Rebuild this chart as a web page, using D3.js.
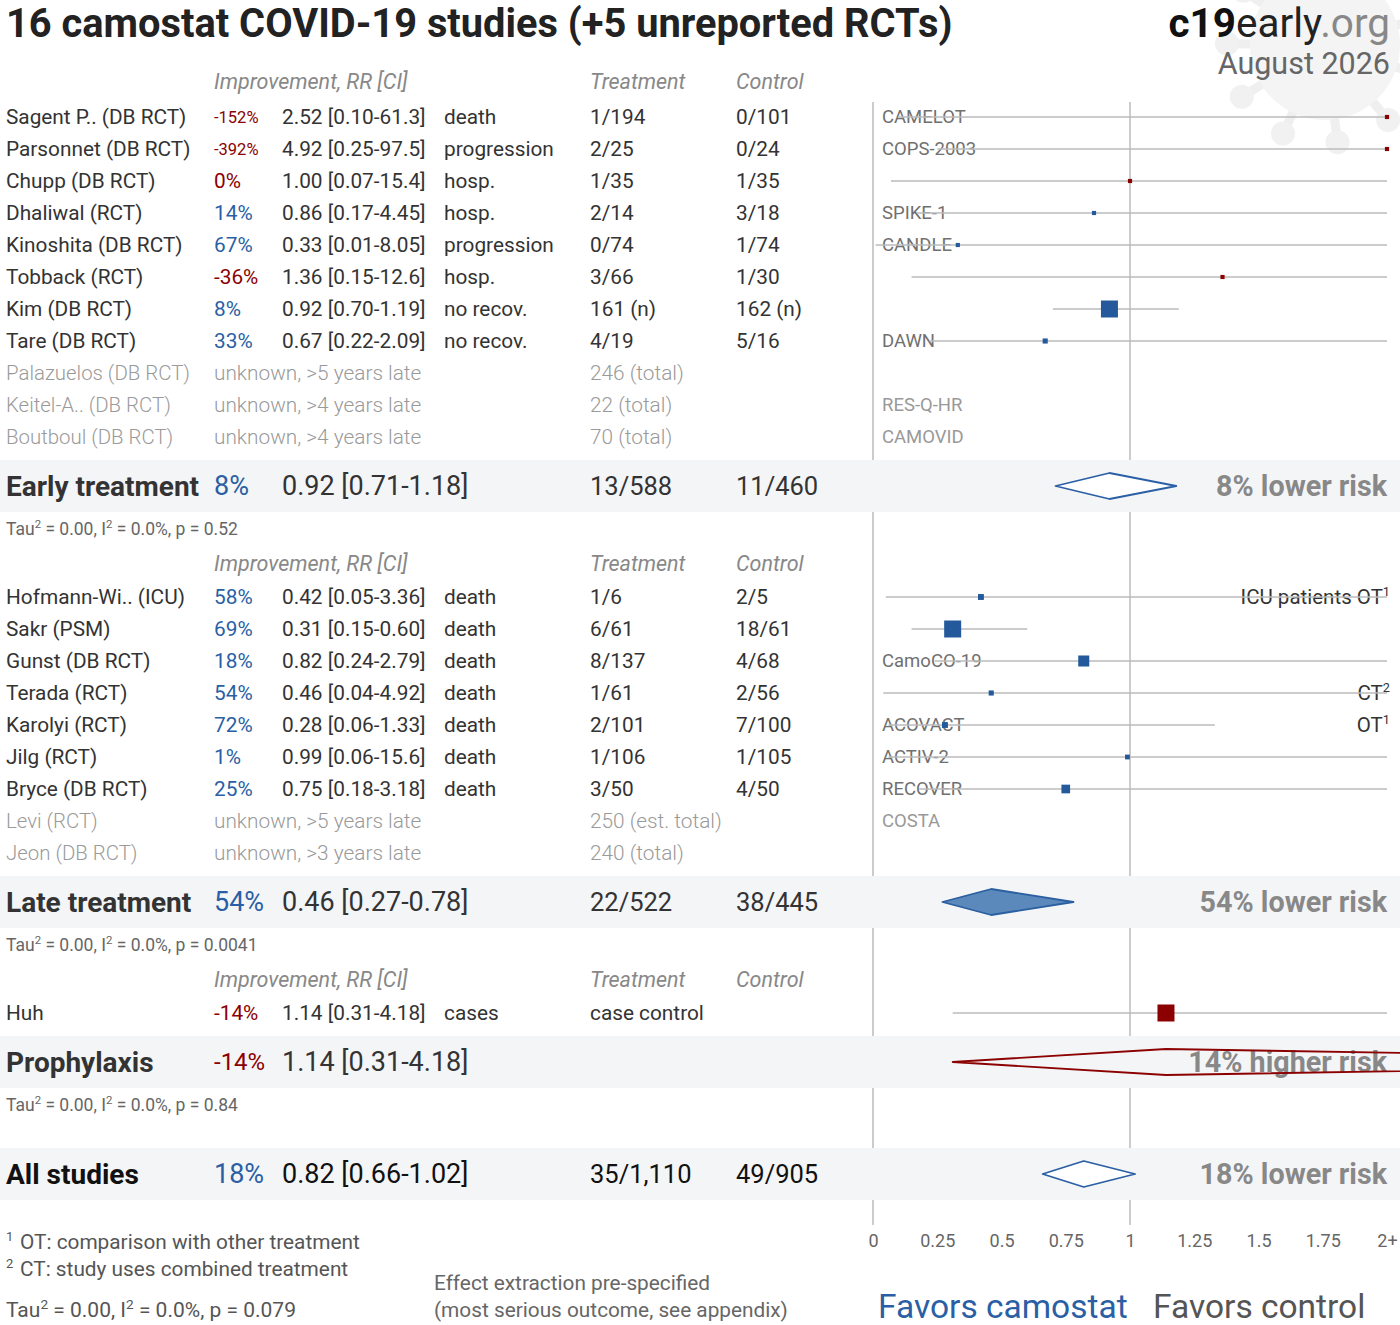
<!DOCTYPE html>
<html>
<head>
<meta charset="utf-8">
<script src="https://cdn.jsdelivr.net/npm/d3@7"></script>
<style>
body { margin: 0; background: #fff; }
svg { display: block; font-family: Roboto, "Noto Sans", sans-serif; }
</style>
</head>
<body>
<script>
// study rows: name, RR, CI low, CI high, outcome, treatment, control, trial, note, weight
const earlyStudies = [
  ["Sagent P.. (DB RCT)", 2.52, 0.10, 61.3, "death", "1/194", "0/101", "CAMELOT", "", 6],
  ["Parsonnet (DB RCT)", 4.92, 0.25, 97.5, "progression", "2/25", "0/24", "COPS-2003", "", 6],
  ["Chupp (DB RCT)", 1.00, 0.07, 15.4, "hosp.", "1/35", "1/35", "", "", 6],
  ["Dhaliwal (RCT)", 0.86, 0.17, 4.45, "hosp.", "2/14", "3/18", "SPIKE-1", "", 6],
  ["Kinoshita (DB RCT)", 0.33, 0.01, 8.05, "progression", "0/74", "1/74", "CANDLE", "", 6],
  ["Tobback (RCT)", 1.36, 0.15, 12.6, "hosp.", "3/66", "1/30", "", "", 6],
  ["Kim (DB RCT)", 0.92, 0.70, 1.19, "no recov.", "161 (n)", "162 (n)", "", "", 100],
  ["Tare (DB RCT)", 0.67, 0.22, 2.09, "no recov.", "4/19", "5/16", "DAWN", "", 9]
];
const earlyUnreported = [
  ["Palazuelos (DB RCT)", "unknown, >5 years late", "246 (total)", ""],
  ["Keitel-A.. (DB RCT)", "unknown, >4 years late", "22 (total)", "RES-Q-HR"],
  ["Boutboul (DB RCT)", "unknown, >4 years late", "70 (total)", "CAMOVID"]
];
const lateStudies = [
  ["Hofmann-Wi.. (ICU)", 0.42, 0.05, 3.36, "death", "1/6", "2/5", "", "ICU patients OT^1", 12],
  ["Sakr (PSM)", 0.31, 0.15, 0.60, "death", "6/61", "18/61", "", "", 100],
  ["Gunst (DB RCT)", 0.82, 0.24, 2.79, "death", "8/137", "4/68", "CamoCO-19", "", 42],
  ["Terada (RCT)", 0.46, 0.04, 4.92, "death", "1/61", "2/56", "", "CT^2", 9],
  ["Karolyi (RCT)", 0.28, 0.06, 1.33, "death", "2/101", "7/100", "ACOVACT", "OT^1", 12],
  ["Jilg (RCT)", 0.99, 0.06, 15.6, "death", "1/106", "1/105", "ACTIV-2", "", 8],
  ["Bryce (DB RCT)", 0.75, 0.18, 3.18, "death", "3/50", "4/50", "RECOVER", "", 26]
];
const lateUnreported = [
  ["Levi (RCT)", "unknown, >5 years late", "250 (est. total)", "COSTA"],
  ["Jeon (DB RCT)", "unknown, >3 years late", "240 (total)", ""]
];
const prophStudies = [
  ["Huh", 1.14, 0.31, 4.18, "cases", "case control", "", "", "", 100]
];
// summaries: label, RR, CI low, CI high, treatment, control, p, verdict
const earlySummary = ["Early treatment", 0.92, 0.71, 1.18, "13/588", "11/460", "0.52", "8% lower risk"];
const lateSummary = ["Late treatment", 0.46, 0.27, 0.78, "22/522", "38/445", "0.0041", "54% lower risk"];
const prophSummary = ["Prophylaxis", 1.14, 0.31, 4.18, "", "", "0.84", "14% higher risk"];
const allSummary = ["All studies", 0.82, 0.66, 1.02, "35/1,110", "49/905", "0.079", "18% lower risk"];
const xTicks = [0, 0.25, 0.5, 0.75, 1, 1.25, 1.5, 1.75, 2];
const xTickLabels = ["0", "0.25", "0.5", "0.75", "1", "1.25", "1.5", "1.75", "2+"];

const W = 1400, H = 1325;
const BLUE = "#2a5fa5", RED = "#8b0000", DARK = "#333", GREY = "#888";
const FS = 20.8;

const svg = d3.select("body").append("svg")
  .attr("width", W)
  .attr("height", H);

const x = d3.scaleLinear().domain([0, 2]).range([873, 1387]).clamp(true);
const size = d3.scaleSqrt().domain([0, 100]).range([0, 17]);

const fmt = v => v >= 10 ? v.toFixed(1) : v.toFixed(2);
const imp = rr => Math.round((1 - rr) * 100);

// faint virus decoration top right
const virus = svg.append("g").attr("transform", "translate(1325,45)").attr("opacity", 0.5);
d3.range(11).forEach(i => {
  const a = i / 11 * 2 * Math.PI + 0.3;
  virus.append("line")
    .attr("x1", 0).attr("y1", 0)
    .attr("x2", Math.cos(a) * 95).attr("y2", Math.sin(a) * 95)
    .attr("stroke", "#e0e0e0").attr("stroke-width", 9);
  virus.append("circle")
    .attr("cx", Math.cos(a) * 98).attr("cy", Math.sin(a) * 98)
    .attr("r", 12).attr("fill", "#e4e4e4");
});
virus.append("circle").attr("r", 75).attr("fill", "#eaeaea");

// title
svg.append("text")
  .attr("x", 6).attr("y", 37)
  .attr("font-size", 39.8).attr("font-weight", 700).attr("fill", "#222")
  .text("16 camostat COVID-19 studies (+5 unreported RCTs)");

const brand = svg.append("text")
  .attr("x", 1390).attr("y", 37)
  .attr("text-anchor", "end").attr("font-size", 40.5);
brand.append("tspan").attr("font-weight", 700).attr("fill", "#111").text("c19");
brand.append("tspan").attr("fill", "#222").text("early");
brand.append("tspan").attr("fill", "#888").text(".org");

svg.append("text")
  .attr("x", 1390).attr("y", 74)
  .attr("text-anchor", "end").attr("font-size", 30.5).attr("fill", "#666")
  .text("August 2026");

// vertical reference lines
[0, 1].forEach(v => {
  svg.append("line")
    .attr("x1", x(v)).attr("x2", x(v))
    .attr("y1", 102).attr("y2", 1225)
    .attr("stroke", "#ccc").attr("stroke-width", 2);
});

const bands = svg.append("g");
const layer = svg.append("g");

function txt(g, xx, y, s, opts) {
  const t = g.append("text")
    .attr("x", xx).attr("y", y).attr("dy", "0.35em")
    .attr("font-size", opts.size || FS)
    .attr("fill", opts.fill || DARK)
    .text(s);
  if (opts.weight) t.attr("font-weight", opts.weight);
  if (opts.italic) t.attr("font-style", "italic");
  if (opts.anchor) t.attr("text-anchor", opts.anchor);
  return t;
}

// "text^sup" -> text with a raised small tail
function supText(g, xx, y, s, opts) {
  const parts = s.split("^");
  const fs = opts.size || FS;
  const t = txt(g, xx, y, "", opts);
  t.append("tspan").text(parts[0]);
  if (parts[1]) t.append("tspan").attr("font-size", fs * 0.62).attr("dy", -fs * 0.38).text(parts[1]);
  return t;
}

function header(y) {
  const o = { fill: GREY, italic: true, size: 21.5 };
  txt(layer, 214, y, "Improvement, RR [CI]", o);
  txt(layer, 590, y, "Treatment", o);
  txt(layer, 736, y, "Control", o);
}

function study(d, y) {
  const [name, rr, lo, hi, outcome, tr, ct, trial, note, w] = d;
  const pct = imp(rr) + "%";
  const col = imp(rr) > 0 ? BLUE : RED;
  txt(layer, 6, y, name, {});
  txt(layer, 214, y, pct, { fill: col, size: pct.length > 4 ? 16.5 : FS });
  txt(layer, 282, y, `${rr.toFixed(2)} [${fmt(lo)}-${fmt(hi)}]`, {});
  txt(layer, 444, y, outcome, {});
  txt(layer, 590, y, tr, {});
  txt(layer, 736, y, ct, {});
  if (trial) txt(layer, 882, y, trial, { fill: "#707070", size: 18.5 });
  if (note) supText(layer, 1390, y, note, { anchor: "end", size: 20.5 });
  layer.append("line")
    .attr("x1", x(lo)).attr("x2", x(hi))
    .attr("y1", y).attr("y2", y)
    .attr("stroke", "#bbb").attr("stroke-width", 1.6);
  const s = size(w);
  layer.append("rect")
    .attr("x", x(rr) - s / 2).attr("y", y - s / 2)
    .attr("width", s).attr("height", s)
    .attr("fill", rr < 1 ? "#245a9b" : RED);
}

function unreported(d, y) {
  const [name, status, n, trial] = d;
  const o = { fill: "#9a9a9a", weight: 300 };
  txt(layer, 6, y, name, Object.assign({ size: 20.4 }, o));
  txt(layer, 214, y, status, o);
  txt(layer, 590, y, n, o);
  if (trial) txt(layer, 882, y, trial, { fill: "#999", size: 18.5 });
}

function tau(y, p, fs, col) {
  const t = txt(layer, 6, y, "", { size: fs, fill: col });
  const up = fs * 0.4;
  t.append("tspan").text("Tau");
  t.append("tspan").attr("font-size", fs * 0.65).attr("dy", -up).text("2");
  t.append("tspan").attr("dy", up).text(" = 0.00, I");
  t.append("tspan").attr("font-size", fs * 0.65).attr("dy", -up).text("2");
  t.append("tspan").attr("dy", up).text(` = 0.0%, p = ${p}`);
}

function summary(d, y, diamondFill, strokeCol, labelFill, showTau) {
  const [label, rr, lo, hi, tr, ct, p, verdict] = d;
  bands.append("rect")
    .attr("x", 0).attr("width", W)
    .attr("y", y - 26).attr("height", 52)
    .attr("fill", "#f4f5f7");
  const pct = imp(rr) + "%";
  txt(layer, 6, y, label, { size: 28, weight: 700, fill: labelFill });
  txt(layer, 214, y, pct, { size: pct.length > 3 ? 24 : 27, fill: imp(rr) > 0 ? BLUE : RED });
  txt(layer, 282, y, `${rr.toFixed(2)} [${fmt(lo)}-${fmt(hi)}]`, { size: 27, fill: labelFill });
  txt(layer, 590, y, tr, { size: 25.5, fill: labelFill });
  txt(layer, 736, y, ct, { size: 25.5, fill: labelFill });
  txt(layer, 1387, y, verdict, { size: 28.7, weight: 700, fill: GREY, anchor: "end" });
  // diamond uses unclamped scale so long CIs run off the page
  const xu = x.copy().clamp(false);
  const pts = [[xu(lo), y], [xu(rr), y - 13], [xu(hi), y], [xu(rr), y + 13]];
  layer.append("path")
    .attr("d", d3.line()(pts) + "Z")
    .attr("fill", diamondFill)
    .attr("stroke", strokeCol).attr("stroke-width", 1.8)
    .attr("stroke-linejoin", "round");
  if (showTau) tau(y + 43, p, 17.5, "#666");
}

// layout
const STEP = 32;
header(81);
let y = 117;
earlyStudies.forEach(d => { study(d, y); y += STEP; });
earlyUnreported.forEach(d => { unreported(d, y); y += STEP; });
summary(earlySummary, 486, "#fff", BLUE, DARK, true);

header(563);
y = 597;
lateStudies.forEach(d => { study(d, y); y += STEP; });
lateUnreported.forEach(d => { unreported(d, y); y += STEP; });
summary(lateSummary, 902, "#5b89bb", "#2a5fa0", DARK, true);

header(979);
y = 1013;
prophStudies.forEach(d => { study(d, y); y += STEP; });
summary(prophSummary, 1062, "none", RED, DARK, true);

summary(allSummary, 1174, "#fff", BLUE, "#111", false);

// x axis
const axis = d3.axisBottom(x)
  .tickValues(xTicks)
  .tickFormat((d, i) => xTickLabels[i])
  .tickSize(0)
  .tickPadding(0);
const ax = svg.append("g")
  .attr("transform", "translate(0,1234)")
  .call(axis);
ax.select(".domain").remove();
ax.selectAll("text")
  .attr("font-size", 18)
  .attr("fill", "#666")
  .attr("font-family", "Roboto, sans-serif");

svg.append("text")
  .attr("x", 878).attr("y", 1318)
  .attr("font-size", 33.5).attr("fill", BLUE)
  .text("Favors camostat");
svg.append("text")
  .attr("x", 1153).attr("y", 1318)
  .attr("font-size", 33.5).attr("fill", "#555")
  .text("Favors control");

// footnotes
txt(layer, 6, 1236, "1", { fill: "#555", size: 13 });
txt(layer, 20, 1242, "OT: comparison with other treatment", { fill: "#555" });
txt(layer, 6, 1263, "2", { fill: "#555", size: 13 });
txt(layer, 20, 1269, "CT: study uses combined treatment", { fill: "#555" });
tau(1310, allSummary[6], 21, "#555");

txt(layer, 434, 1283, "Effect extraction pre-specified", { fill: "#666" });
txt(layer, 434, 1310, "(most serious outcome, see appendix)", { fill: "#666" });
</script>
</body>
</html>
